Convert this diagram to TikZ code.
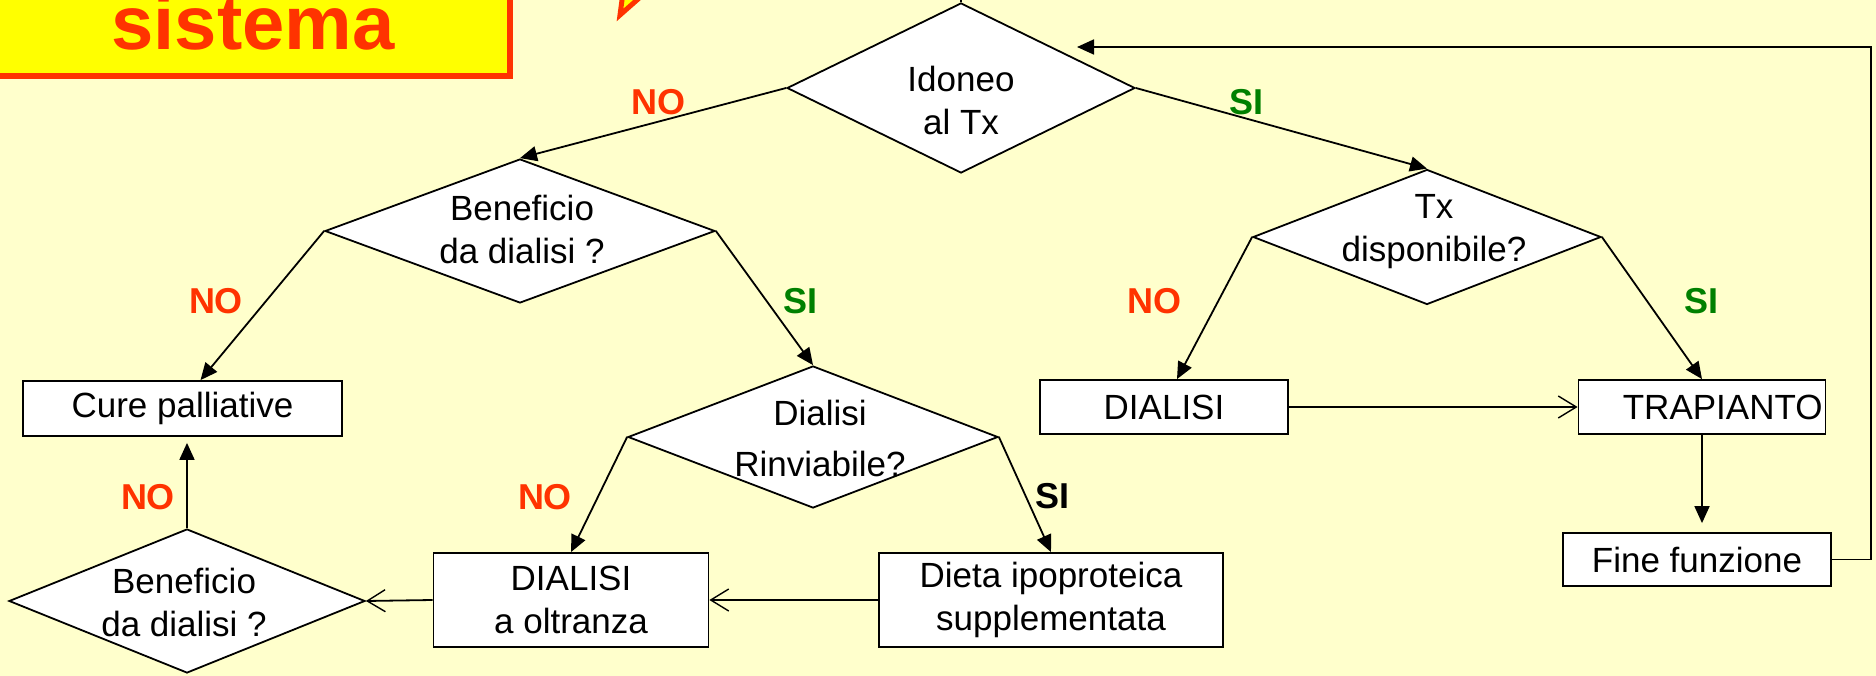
\documentclass[tikz,border=0pt]{standalone}
\usepackage{fontspec}
\setmainfont{Liberation Sans}
\usetikzlibrary{shapes.geometric,arrows.meta}
\definecolor{fondo}{HTML}{FFFFCC}
\definecolor{giallo}{HTML}{FFFF00}
\definecolor{rossono}{HTML}{FF3300}
\definecolor{verdesi}{HTML}{008000}
\tikzset{
    rombo/.style = {diamond, draw, fill=white, inner sep=0pt},
    blocco/.style = {rectangle, draw, fill=white, inner sep=0pt, align=center,
        font=\fontsize{35}{43}\selectfont},
    testo/.style = {inner sep=0pt, align=center, font=\fontsize{35}{43}\selectfont},
    etich/.style = {inner sep=0pt, font=\fontsize{36}{40}\selectfont\bfseries},
    piena/.style = {-{Triangle[length=17pt, width=15pt]}},
    aperta/.style = {-{Straight Barb[length=18pt, width=22pt, line width=1.4pt]}},
}
\begin{document}
\begin{tikzpicture}[x = 1pt, y = -1pt, line width = 1.8pt]
        \useasboundingbox (0, 0) rectangle (1876, 676);
        \fill[fondo] (0, 0) rectangle (1876, 676);

        % titolo tagliato in alto
        \node[draw = rossono, fill = giallo, line width = 6pt, minimum width = 514pt,
            minimum height = 98pt, inner sep = 0pt, text = rossono, text depth = 10pt,
            font = \fontsize{76}{80}\selectfont\bfseries] (titolo) at (253, 27) {sistema};
        \draw[rossono, fill = giallo, line width = 5pt]
            (623.6, -12) -- (620, 15) -- (650.6, -12) -- cycle;

        % domande
        \node[rombo, minimum width = 348pt, minimum height = 170pt] (idoneo) at (961, 88) {};
        \node[rombo, minimum width = 390pt, minimum height = 144pt] (benef) at (520, 231) {};
        \node[rombo, minimum width = 348pt, minimum height = 135pt] (tx) at (1427, 237) {};
        \node[rombo, minimum width = 370pt, minimum height = 142pt] (rinv) at (813, 437) {};
        \node[rombo, minimum width = 356pt, minimum height = 144pt] (benefb) at (187, 601) {};

        \node[testo] (idoneo-t) at (961, 100) {Idoneo\\al Tx};
        \node[testo] (benef-t) at (522, 229) {Beneficio\\da dialisi ?};
        \node[testo] (tx-t) at (1434, 232) {Tx\\disponibile?};
        \node[testo, font = \fontsize{35}{51}\selectfont] (rinv-t) at (820, 438) {Dialisi\\Rinviabile?};
        \node[testo] (benefb-t) at (184, 602) {Beneficio\\da dialisi ?};

        % azioni
        \node[blocco, minimum width = 319pt, minimum height = 55pt] (cure) at (182.5, 408.5) {Cure palliative};
        \node[blocco, minimum width = 248pt, minimum height = 54pt] (dial) at (1164, 407) {DIALISI};
        \node[blocco, minimum width = 247pt, minimum height = 54pt, text width = 241pt,
            align = right] (trap) at (1702, 407) {TRAPIANTO};
        \node[blocco, minimum width = 268pt, minimum height = 53pt] (fine) at (1697, 559.5) {Fine funzione};
        \node[blocco, minimum width = 275pt, minimum height = 94pt] (oltr) at (571, 600) {DIALISI\\a oltranza};
        \node[blocco, minimum width = 344pt, minimum height = 94pt] (dieta) at (1051, 600) {Dieta ipoproteica\\supplementata};

        % collegamenti
        \coordinate (sopra) at (961, -10);
        \coordinate (ritorno) at (1077, 47);
        \draw (sopra) -- (idoneo.north);
        \draw[piena] (idoneo.west) -- (benef.north);
        \draw[piena] (idoneo.east) -- (tx.north);
        \draw[piena] (benef.west) -- ([xshift = 18pt]cure.north);
        \draw[piena] (benef.east) -- (rinv.north);
        \draw[piena] (tx.west) -- ([xshift = 13pt]dial.north);
        \draw[piena] (tx.east) -- (trap.north);
        \draw[piena] (rinv.west) -- (oltr.north);
        \draw[piena] (rinv.east) -- (dieta.north);
        \draw[piena, shorten >= 9pt] (trap.south) -- (trap.south |- fine.north);
        \draw[piena, shorten >= 6pt] (benefb.north) -- (benefb.north |- cure.south);
        \draw[aperta] (dial.east) -- (trap.west);
        \draw[aperta] (dieta.west) -- (oltr.east);
        \draw[aperta] (oltr.west) -- (benefb.east);
        \draw[piena] (fine.east) -- ++(39, 0) |- (ritorno);

        % risposte
        \foreach \n/\x/\y in {a/658/102, b/216/301, c/1154/301, d/148/497, e/545/497}
            \node[etich, text = rossono] (no-\n) at (\x, \y) {NO};
        \foreach \n/\x/\y in {a/1246/102, b/800/301, c/1701/301}
            \node[etich, text = verdesi] (si-\n) at (\x, \y) {SI};
        \node[etich] (si-d) at (1052, 496) {SI};
    \end{tikzpicture}
\end{document}
